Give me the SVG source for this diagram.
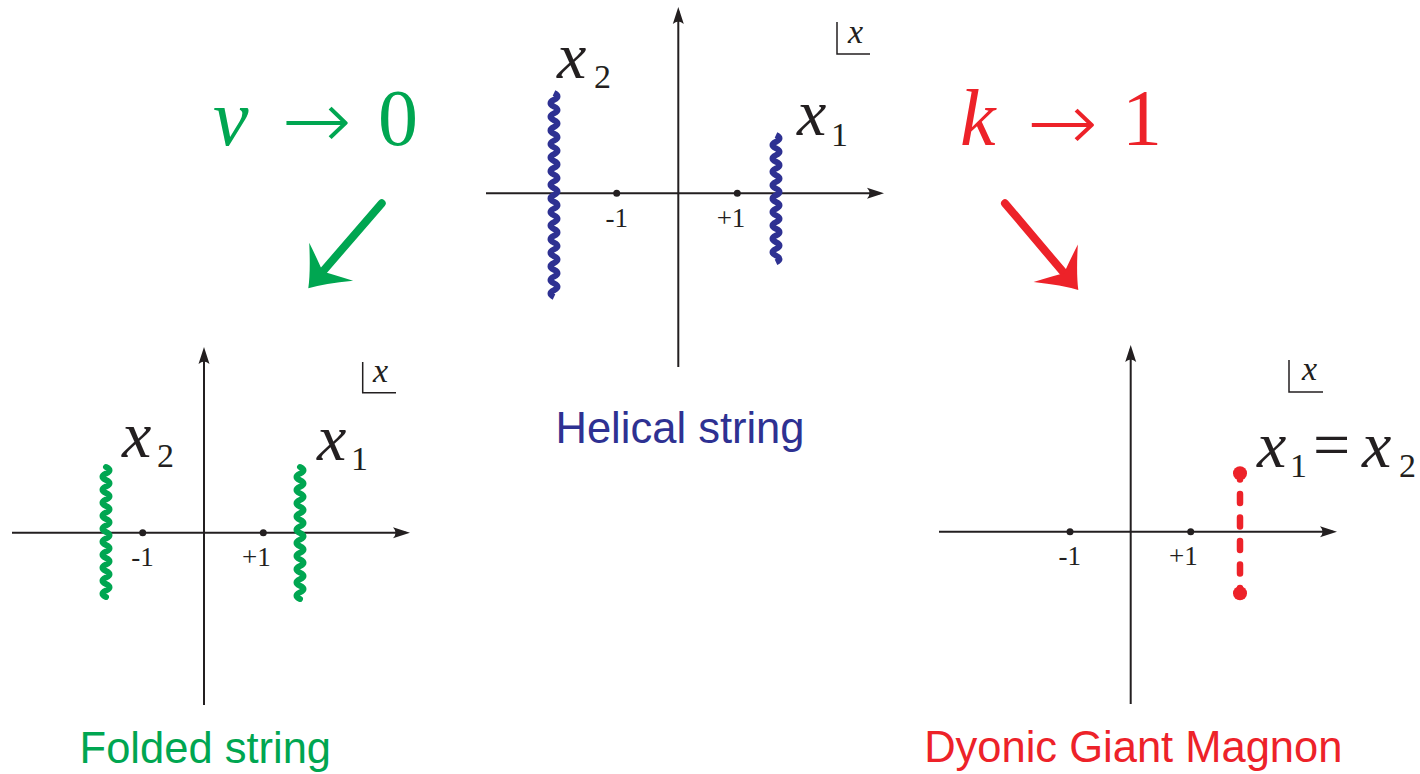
<svg xmlns="http://www.w3.org/2000/svg" xmlns:xlink="http://www.w3.org/1999/xlink" width="1420" height="774" viewBox="0 0 1420 774">
<style>
.axis{stroke:#231f20;stroke-width:2;fill:none}
.tick{stroke:#231f20;stroke-width:1.5;fill:none}
.dot{fill:#231f20}
.num{font-family:"Liberation Serif","DejaVu Serif",serif;font-size:27px;fill:#231f20;text-anchor:middle}
.mi{font-family:"Liberation Serif","DejaVu Serif",serif;font-style:italic;fill:#231f20}
.big{font-size:66px}
.sub{font-family:"Liberation Serif","DejaVu Serif",serif;font-size:34px;fill:#231f20}
.sm{font-size:34px}
.cap{font-family:"Liberation Sans",Arial,sans-serif;font-size:43.5px;text-anchor:middle}
.lim{font-family:"Liberation Serif","DejaVu Serif",serif;font-size:80px}
.arr{font-family:"DejaVu Sans",sans-serif;font-weight:200;font-size:80px}
.wave{fill:none;stroke-width:6}
</style>
<defs>
<marker id="ax" viewBox="-18 -6 19 12" refX="-4" refY="0" markerWidth="19" markerHeight="12" markerUnits="userSpaceOnUse" orient="auto">
<path d="M0,0 L-17,-5.5 Q-12,0 -17,5.5 Z" fill="#231f20"/>
</marker>
<path id="head" d="M0,0 Q-14,-9 -35,-29 Q-27,-10 -22,0 Q-27,10 -35,29 Q-14,9 0,0 Z"/>
</defs>

<g id="helical">
<line class="axis" x1="678.3" y1="367" x2="678.3" y2="11" marker-end="url(#ax)"/>
<line class="axis" x1="486" y1="193.3" x2="880" y2="193.3" marker-end="url(#ax)"/>
<circle class="dot" cx="616.7" cy="193.3" r="3.5"/>
<circle class="dot" cx="737.3" cy="193.3" r="3.5"/>
<text class="num" x="616.7" y="226.7">-1</text>
<text class="num" x="731" y="226.7">+1</text>
<path class="tick" d="M837,22 V54 H870"/>
<text class="mi sm" x="848" y="43">x</text>
<path class="wave" stroke="#2e3192" d="M554,93 q7,3.4 0,6.8 t0,6.8 t0,6.8 t0,6.8 t0,6.8 t0,6.8 t0,6.8 t0,6.8 t0,6.8 t0,6.8 t0,6.8 t0,6.8 t0,6.8 t0,6.8 t0,6.8 t0,6.8 t0,6.8 t0,6.8 t0,6.8 t0,6.8 t0,6.8 t0,6.8 t0,6.8 t0,6.8 t0,6.8 t0,6.8 t0,6.8 t0,6.8 t0,6.8 t0,6.8"/>
<path class="wave" stroke="#2e3192" d="M776,135 q7,3.35 0,6.7 t0,6.7 t0,6.7 t0,6.7 t0,6.7 t0,6.7 t0,6.7 t0,6.7 t0,6.7 t0,6.7 t0,6.7 t0,6.7 t0,6.7 t0,6.7 t0,6.7 t0,6.7 t0,6.7 t0,6.7 t0,6.7"/>
<text class="mi big" x="557" y="78">x</text><text class="sub" x="594" y="88">2</text>
<text class="mi big" x="797" y="135">x</text><text class="sub" x="831" y="145.7">1</text>
<text class="cap" x="680" y="443.3" fill="#2e3192">Helical string</text>
</g>

<g id="folded">
<line class="axis" x1="204" y1="705" x2="204" y2="351" marker-end="url(#ax)"/>
<line class="axis" x1="12" y1="532.7" x2="406" y2="532.7" marker-end="url(#ax)"/>
<circle class="dot" cx="142.7" cy="532.7" r="3.5"/>
<circle class="dot" cx="263.3" cy="532.7" r="3.5"/>
<text class="num" x="142.5" y="566">-1</text>
<text class="num" x="256.3" y="566">+1</text>
<path class="tick" d="M362.7,362 V392.7 H396"/>
<text class="mi sm" x="373" y="381.7">x</text>
<path class="wave" stroke="#00a651" stroke-linecap="round" d="M106,467 q7,3.25 0,6.5 t0,6.5 t0,6.5 t0,6.5 t0,6.5 t0,6.5 t0,6.5 t0,6.5 t0,6.5 t0,6.5 t0,6.5 t0,6.5 t0,6.5 t0,6.5 t0,6.5 t0,6.5 t0,6.5 t0,6.5 t0,6.5 t0,6.5"/>
<path class="wave" stroke="#00a651" stroke-linecap="round" d="M300,467 q7,3.3 0,6.6 t0,6.6 t0,6.6 t0,6.6 t0,6.6 t0,6.6 t0,6.6 t0,6.6 t0,6.6 t0,6.6 t0,6.6 t0,6.6 t0,6.6 t0,6.6 t0,6.6 t0,6.6 t0,6.6 t0,6.6 t0,6.6 t0,6.6"/>
<text class="mi big" x="122" y="457">x</text><text class="sub" x="157" y="467">2</text>
<text class="mi big" x="317" y="460">x</text><text class="sub" x="351" y="470">1</text>
<text class="cap" x="205.3" y="763.3" fill="#00a651">Folded string</text>
</g>

<g id="magnon">
<line class="axis" x1="1130.7" y1="704" x2="1130.7" y2="349" marker-end="url(#ax)"/>
<line class="axis" x1="939" y1="531.7" x2="1333" y2="531.7" marker-end="url(#ax)"/>
<circle class="dot" cx="1070" cy="531.7" r="3.5"/>
<circle class="dot" cx="1190.7" cy="531.7" r="3.5"/>
<text class="num" x="1069.7" y="565">-1</text>
<text class="num" x="1183.3" y="565">+1</text>
<path class="tick" d="M1289,360 V392 H1323"/>
<text class="mi sm" x="1302" y="380">x</text>
<line x1="1240" y1="473.3" x2="1240" y2="593.3" stroke="#ed2229" stroke-width="6.5" stroke-linecap="round" stroke-dasharray="9 14.5" stroke-dashoffset="2.8"/>
<circle cx="1240" cy="473.3" r="7" fill="#ed2229"/>
<circle cx="1240" cy="593.3" r="7" fill="#ed2229"/>
<text class="mi big" x="1257" y="467">x</text><text class="sub" x="1290" y="477">1</text>
<text x="1313" y="467" font-family="Liberation Serif, DejaVu Serif, serif" font-size="66" fill="#231f20">=</text>
<text class="mi big" x="1362" y="467">x</text><text class="sub" x="1399" y="477">2</text>
<text class="cap" x="1133.3" y="761.7" fill="#ed2229">Dyonic Giant Magnon</text>
</g>

<g id="limit-v">
<text class="lim" x="213" y="145" fill="#00a651" font-style="italic">v</text>
<text class="arr" x="281.7" y="148" fill="#00a651" textLength="70" lengthAdjust="spacingAndGlyphs">→</text>
<text class="lim" x="378" y="145" fill="#00a651">0</text>
</g>

<g id="limit-k">
<text class="lim" x="960" y="145" fill="#ed2229" font-style="italic">k</text>
<text class="arr" x="1027" y="150" fill="#ed2229" textLength="71" lengthAdjust="spacingAndGlyphs">→</text>
<text class="lim" x="1122" y="145" fill="#ed2229">1</text>
</g>

<g id="connectors">
<line x1="381.7" y1="203.3" x2="322.7" y2="271.6" stroke="#00a651" stroke-width="8" stroke-linecap="round"/>
<use xlink:href="#head" transform="translate(308.3,288.3) rotate(130.8)" fill="#00a651"/>
<line x1="1005" y1="203.3" x2="1064.1" y2="273.2" stroke="#ed2229" stroke-width="8" stroke-linecap="round"/>
<use xlink:href="#head" transform="translate(1078.3,290) rotate(49.8)" fill="#ed2229"/>
</g>
</svg>
